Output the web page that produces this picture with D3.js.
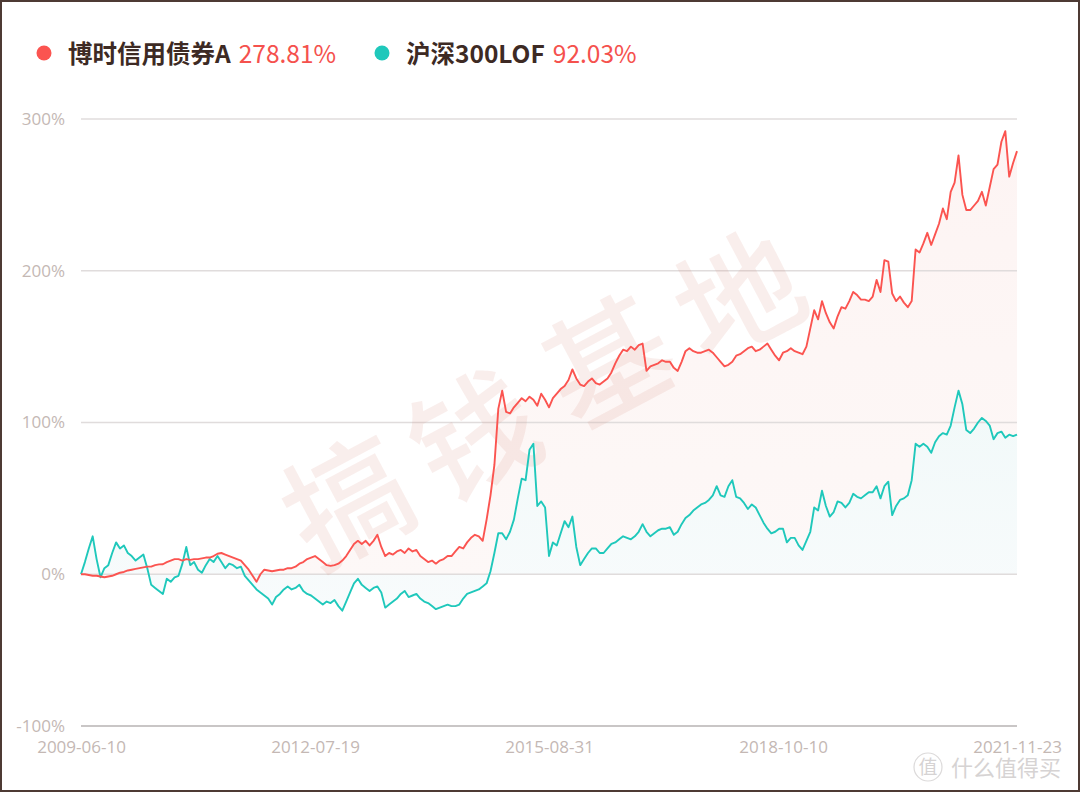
<!DOCTYPE html>
<html>
<head>
<meta charset="utf-8">
<script src="https://cdn.jsdelivr.net/npm/d3@7"></script>
<style>
  html, body { margin: 0; padding: 0; background: #fff; }
  svg { display: block; font-family: "Noto Sans CJK SC", "Noto Sans", sans-serif; }
</style>
</head>
<body>
<svg id="chart" width="1080" height="792"></svg>
<script>
// x axis is a category axis: labels sit at evenly spaced indices
const tickLabels = ["2009-06-10", "2012-07-19", "2015-08-31", "2018-10-10", "2021-11-23"];
const yTicks = [-100, 0, 100, 200, 300];

const seriesNames = ["博时信用债券A", "沪深300LOF"];
const finalReturns = ["278.81%", "92.03%"];

// cumulative return, %
const bondValues = [
  0, 0, -0.5, -1, -1, -1.5, -2, -1.5, -1, 0,
  1, 1.5, 2.5, 3, 3.5, 4, 4.5, 5, 5, 6,
  6.5, 6.6, 8, 9, 10, 10, 9, 10, 9.5, 10,
  10, 10.5, 11, 11, 12, 13.5, 14, 13, 12, 11,
  10, 9, 6, 3, -1, -5, 0, 3, 2.5, 2,
  2.5, 3, 3, 4, 4, 5, 7, 8, 10, 11,
  12, 10, 8, 6, 5.5, 6, 7, 9, 12, 16,
  20, 22, 20, 22, 19, 22, 26, 18, 12, 14,
  13, 15, 16, 14, 17, 15, 16, 12, 10, 8,
  9, 7, 9, 10, 12, 12, 15, 18, 17, 21,
  24, 26, 25, 22, 36, 52, 72, 109, 121, 107,
  106, 110, 113, 116, 114, 117, 115, 111, 119, 115,
  110, 116, 119, 122, 124, 128, 135, 129, 125, 124,
  127, 129, 126, 125, 127, 129, 133, 139, 144, 148,
  147, 150, 148, 151, 152, 134, 137, 138, 139, 141,
  140, 140, 136, 134, 140, 147, 149, 147, 146, 146,
  147, 148, 146, 143, 140, 137, 138, 140, 144, 145,
  147, 149, 150, 147, 148, 150, 152, 148, 144, 141,
  146, 147, 149, 147, 146, 145, 150, 162, 174, 168,
  180, 172, 166, 162, 170, 176, 175, 180, 186, 184,
  181, 181, 180, 183, 194, 186, 207, 206, 185, 180,
  183, 179, 176, 180, 214, 212, 218, 225, 217, 224,
  231, 241, 234, 252, 258, 276, 250, 240, 240, 243,
  246, 252, 243, 255, 267, 270, 285, 292, 262, 271,
  278.81
];

const indexValues = [
  0, 8, 17, 25, 10, -2, 4, 6, 14, 21,
  17, 19, 14, 12, 9, 11, 13, 4, -7, -9,
  -11, -13, -3, -5, -2, -1, 7, 18, 6, 8,
  3, 1, 6, 10, 8, 12, 8, 4, 7, 6,
  4, 5, -1, -4, -7, -10, -12, -14, -16, -20,
  -15, -13, -10, -8, -10, -9, -7, -11, -13, -14,
  -16, -18, -20, -18, -19, -17, -21, -24, -18, -12,
  -6, -3, -7, -9, -11, -9, -8, -12, -22, -20,
  -18, -16, -13, -11, -15, -14, -13, -16, -18, -19,
  -21, -23, -22, -21, -20, -21, -21, -20, -16, -13,
  -12, -11, -10, -8, -6, 2, 14, 27, 27, 23,
  28, 36, 50, 63, 62, 82, 86, 45, 48, 44,
  12, 21, 19, 27, 35, 31, 38, 18, 6, 10,
  14, 17, 17, 14, 14, 17, 20, 21, 23, 25,
  24, 23, 25, 28, 33, 28, 25, 27, 29, 30,
  30, 31, 26, 28, 33, 37, 39, 42, 44, 46,
  47, 49, 52, 58, 52, 51, 58, 62, 51, 50,
  47, 43, 46, 44, 39, 34, 30, 27, 28, 30,
  30, 21, 24, 24, 19, 16, 22, 28, 44, 42,
  55, 45, 38, 41, 48, 47, 44, 47, 53, 51,
  50, 52, 54, 54, 58, 50, 58, 61, 39, 45,
  49, 50, 52, 62, 86, 84, 86, 84, 80, 87,
  91, 93, 92, 98, 110, 121, 112, 95, 93, 96,
  100, 103, 101, 98, 89, 93, 94, 90, 92, 91,
  92.03
];

const colors = ["#fb5450", "#1fc8bb"];

const svg = d3.select("#chart");
const W = 1080, H = 792;
const plot = { left: 81, right: 1017, top: 119, bottom: 726 };

const n = bondValues.length;
const x = d3.scaleLinear().domain([0, n - 1]).range([plot.left, plot.right]);
const y = d3.scaleLinear().domain([-100, 300]).range([plot.bottom, plot.top]);

svg.append("rect").attr("width", W).attr("height", H).attr("fill", "#fff");

const defs = svg.append("defs");
const g1 = defs.append("linearGradient").attr("id", "fillRed").attr("x1", 0).attr("y1", 0).attr("x2", 0).attr("y2", 1);
g1.append("stop").attr("offset", "0%").attr("stop-color", "#fdf4f3");
g1.append("stop").attr("offset", "100%").attr("stop-color", "#fdf8f7");
const g2 = defs.append("linearGradient").attr("id", "fillTeal").attr("x1", 0).attr("y1", 0).attr("x2", 0).attr("y2", 1);
g2.append("stop").attr("offset", "0%").attr("stop-color", "#f1f9f9");
g2.append("stop").attr("offset", "100%").attr("stop-color", "#f8fbfc");

// areas
const series = [bondValues, indexValues];
const area = d3.area().x((d, i) => x(i)).y0(y(0)).y1(d => y(d));
const line = d3.line().x((d, i) => x(i)).y(d => y(d));
svg.append("path").datum(bondValues).attr("d", area).attr("fill", "url(#fillRed)");
svg.append("path").datum(indexValues).attr("d", area).attr("fill", "url(#fillTeal)");

// grid lines
svg.append("g").selectAll("line").data(yTicks).join("line")
  .attr("x1", plot.left).attr("x2", plot.right)
  .attr("y1", d => y(d)).attr("y2", d => y(d))
  .attr("stroke", d => d === -100 ? "#c9c6c6" : "#e0dcdc")
  .attr("stroke-width", d => d === -100 ? 2 : 1.5);

// watermark
const wm = ["搞", "钱", "基", "地"];
const wmPos = [[349, 503], [475, 437], [609, 363], [740, 297]];
svg.append("g").selectAll("text").data(wm).join("text")
  .attr("transform", (d, i) => `translate(${wmPos[i][0]},${wmPos[i][1]}) rotate(-28)`)
  .attr("text-anchor", "middle")
  .attr("dy", "0.36em")
  .attr("font-size", 124)
  .attr("font-weight", 500)
  .attr("fill", "rgba(214, 140, 125, 0.15)")
  .text(d => d);

// y axis labels
const yAxis = svg.append("g")
  .attr("transform", `translate(${plot.left - 13},0)`)
  .call(d3.axisLeft(y).tickValues(yTicks).tickSize(0).tickFormat(d => d + "%"));
yAxis.select(".domain").remove();
yAxis.selectAll("text")
  .attr("fill", "#c4b8b4")
  .attr("font-size", 17)
  .attr("font-family", "'Open Sans', 'Noto Sans', sans-serif");

// x axis labels at evenly spaced category indices
const tickIdx = tickLabels.map((d, i) => i * (n - 1) / (tickLabels.length - 1));
const xAxis = svg.append("g")
  .attr("transform", `translate(0,${plot.bottom + 12})`)
  .call(d3.axisBottom(x).tickValues(tickIdx).tickSize(0).tickFormat((d, i) => tickLabels[i]));
xAxis.select(".domain").remove();
xAxis.selectAll("text")
  .attr("fill", "#c4b8b4")
  .attr("font-size", 17)
  .attr("font-family", "'Open Sans', 'Noto Sans', sans-serif");

// lines (index first, bond on top)
series.slice().reverse().forEach((vals, r) => {
  const k = series.length - 1 - r;
  svg.append("path").datum(vals)
    .attr("d", line)
    .attr("fill", "none")
    .attr("stroke", colors[k])
    .attr("stroke-width", 1.9)
    .attr("stroke-linejoin", "round");
});

// legend
const legendX = [44, 382];
const legend = svg.append("g");
seriesNames.forEach((name, k) => {
  legend.append("circle").attr("cx", legendX[k]).attr("cy", 53).attr("r", 7.5).attr("fill", colors[k]);
  const t = legend.append("text").attr("x", legendX[k] + 24).attr("y", 63).attr("font-size", 24.5);
  t.append("tspan").attr("font-weight", 700).attr("fill", "#3d2a24").text(name);
  t.append("tspan").attr("dx", 8).attr("font-weight", 400).attr("fill", "#f5514d").text(finalReturns[k]);
});

// site mark bottom right
const mark = svg.append("g").attr("fill", "#d6d3d3");
mark.append("circle").attr("cx", 928).attr("cy", 767).attr("r", 14)
  .attr("fill", "none").attr("stroke", "#dcdada").attr("stroke-width", 1.2);
mark.append("text").attr("x", 928).attr("y", 774).attr("text-anchor", "middle")
  .attr("font-size", 19).text("值");
mark.append("text").attr("x", 951).attr("y", 776).attr("font-size", 22).text("什么值得买");

// frame
svg.append("rect").attr("x", 1).attr("y", 1).attr("width", W - 2).attr("height", H - 2)
  .attr("fill", "none").attr("stroke", "#4d3a34").attr("stroke-width", 2);
</script>
</body>
</html>
